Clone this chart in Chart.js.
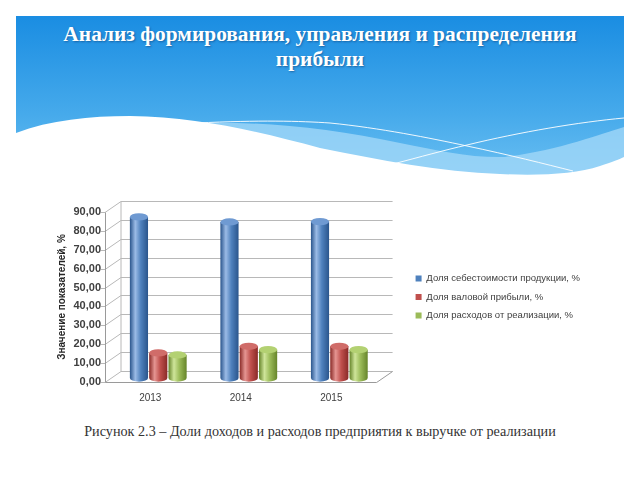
<!DOCTYPE html>
<html><head><meta charset="utf-8">
<script src="https://cdn.jsdelivr.net/npm/chart.js@4/dist/chart.umd.min.js"></script>
<style>
html,body{margin:0;padding:0;background:#fff;width:640px;height:480px;overflow:hidden;}
#hdr{position:absolute;left:0;top:0;}
#title{position:absolute;left:15px;top:22px;width:610px;text-align:center;color:#fff;font-family:"Liberation Serif","Times New Roman",serif;font-weight:bold;font-size:21.4px;line-height:25px;text-shadow:1px 1px 2px rgba(0,40,90,0.45);}
#wrap{position:absolute;left:0;top:185px;width:640px;height:235px;}
#caption{position:absolute;left:0;top:423px;width:640px;text-align:center;font-family:"Liberation Serif","Times New Roman",serif;font-size:14.2px;color:#333;}
</style></head>
<body>
<svg id="hdr" width="640" height="200" xmlns="http://www.w3.org/2000/svg">
<defs>
<linearGradient id="bg" x1="0" y1="0" x2="0" y2="1">
<stop offset="0" stop-color="#1a8de2"/><stop offset="0.6" stop-color="#46aaeb"/><stop offset="1" stop-color="#6cc0f2"/>
</linearGradient>
</defs>
<rect x="16" y="16" width="608" height="164" fill="url(#bg)"/>
<path d="M197 123 C260 121 330 128 400 143 C440 151 470 158 505 157 C560 150 600 134 624 127 L624 200 L197 200 Z" fill="#a6d9f8" opacity="0.75"/>
<path d="M16 133 C50 120 90 116 130 116 C200 117 260 132 320 148 C380 160 440 172 500 174 C540 176 575 174 600 166 C612 162 620 159 624 157 L624 200 L16 200 Z" fill="#fff"/>
<path d="M197 123 C260 120 300 121 330 123 C380 128 430 138 467 146 C510 155 545 164 573 171" stroke="#fff" stroke-width="1" fill="none" opacity="0.9"/>
<path d="M393 164 C420 157 445 150 467 145 C520 132 580 122 624 118" stroke="#fff" stroke-width="1" fill="none" opacity="0.9"/>
</svg>
<div id="title">Анализ формирования, управления и распределения<br>прибыли</div>
<div id="wrap"><canvas id="c" width="640" height="235"></canvas></div>
<div id="caption">Рисунок 2.3 – Доли доходов и расходов предприятия к выручке от реализации</div>
<script>
const years = ["2013", "2014", "2015"];
const costShare = [85.3, 82.6, 82.8];
const grossProfitShare = [13.3, 16.8, 16.8];
const salesExpenseShare = [12.2, 15.0, 15.0];
const seriesNames = ["Доля себестоимости продукции, %", "Доля валовой прибыли, %", "Доля расходов от реализации, %"];
const yTitle = "Значение показателей, %";

const DX = 16, DY = 11;
const shades = [
  {base:"#4f81bd", dark:"#2a558c", light:"#9bbbe6", top:"#6f9ad2"},
  {base:"#c0504d", dark:"#8a2a27", light:"#e59592", top:"#d06c69"},
  {base:"#9bbb59", dark:"#66852a", light:"#cfe59a", top:"#b3d172"}
];

const wallPlugin = {
  id: "wall3d",
  beforeDatasetsDraw(chart) {
    const {ctx, chartArea: {left, right, top, bottom}, scales: {y}} = chart;
    ctx.save();
    ctx.lineWidth = 1;
    ctx.strokeStyle = "#b8b8b8";
    y.ticks.forEach(t => {
      const yy = Math.round(y.getPixelForValue(t.value)) + 0.5;
      ctx.beginPath();
      ctx.moveTo(left - 4, yy);
      ctx.lineTo(left, yy);
      ctx.lineTo(left + DX, yy - DY);
      ctx.lineTo(right + DX, yy - DY);
      ctx.stroke();
    });
    const b = Math.round(bottom) + 0.5;
    ctx.beginPath();
    ctx.moveTo(left + DX, b - DY);
    ctx.lineTo(left + DX, Math.round(top) + 0.5 - DY);
    ctx.stroke();
    ctx.strokeStyle = "#9a9a9a";
    ctx.beginPath();
    ctx.moveTo(Math.round(left) + 0.5, Math.round(top) + 0.5);
    ctx.lineTo(Math.round(left) + 0.5, b);
    ctx.lineTo(right, b);
    ctx.lineTo(right + DX, b - DY);
    ctx.stroke();
    ctx.restore();
  },
  beforeDatasetDraw() { return false; },
  afterDatasetsDraw(chart) {
    const ctx = chart.ctx;
    ctx.save();
    const ox = DX * 0.5, oy = -4;
    chart.data.datasets.forEach((ds, di) => {
      const meta = chart.getDatasetMeta(di);
      const s = shades[di];
      meta.data.forEach(el => {
        const p = el.getProps(["x", "y", "base", "width"], true);
        const w = p.width * 0.94;
        const cx = p.x + ox;
        const l = cx - w / 2, r = cx + w / 2;
        const ty = p.y + oy, by = p.base + oy;
        const rx = w / 2, ry = w * 0.2;
        const g = ctx.createLinearGradient(l, 0, r, 0);
        g.addColorStop(0, s.dark);
        g.addColorStop(0.3, s.light);
        g.addColorStop(0.6, s.base);
        g.addColorStop(1, s.dark);
        ctx.fillStyle = g;
        ctx.beginPath();
        ctx.moveTo(l, ty);
        ctx.lineTo(l, by);
        ctx.ellipse(cx, by, rx, ry, 0, Math.PI, 0, true);
        ctx.lineTo(r, ty);
        ctx.closePath();
        ctx.fill();
        ctx.fillStyle = s.top;
        ctx.beginPath();
        ctx.ellipse(cx, ty, rx, ry, 0, 0, Math.PI * 2);
        ctx.fill();
      });
    });
    ctx.restore();
  }
};

const fmt = v => Number(v).toFixed(2).replace(".", ",");

new Chart(document.getElementById("c"), {
  type: "bar",
  data: {
    labels: years,
    datasets: [
      {label: seriesNames[0], data: costShare, backgroundColor: shades[0].base},
      {label: seriesNames[1], data: grossProfitShare, backgroundColor: shades[1].base},
      {label: seriesNames[2], data: salesExpenseShare, backgroundColor: shades[2].base}
    ]
  },
  plugins: [wallPlugin],
  options: {
    responsive: false,
    animation: false,
    devicePixelRatio: 1,
    layout: {padding: {left: 52, top: 27, bottom: 10, right: 50}},
    datasets: {bar: {categoryPercentage: 0.64, barPercentage: 1.0}},
    plugins: {
      tooltip: {enabled: false},
      legend: {
        position: "right",
        fullSize: false,
        maxWidth: 260,
        labels: {
          boxWidth: 6, boxHeight: 6, padding: 9,
          color: "#404040",
          font: {family: "'Liberation Sans', Arial, sans-serif", size: 9.5}
        }
      }
    },
    scales: {
      x: {
        grid: {display: false, tickLength: 0},
        border: {display: false},
        ticks: {color: "#404040", padding: 10, font: {family: "'Liberation Sans', Arial, sans-serif", size: 10}},
        afterFit: s => { s.height = 28; }
      },
      y: {
        min: 0, max: 90,
        grid: {display: false, tickLength: 0},
        border: {display: false},
        ticks: {stepSize: 10, color: "#404040", padding: 4, callback: v => fmt(v),
          font: {family: "'Liberation Sans', Arial, sans-serif", size: 11, weight: "bold"}},
        title: {display: true, text: yTitle, color: "#262626", padding: {top: 4, bottom: 0},
          font: {family: "'Liberation Sans Narrow', 'Liberation Sans', Arial, sans-serif", size: 10, weight: "bold"}},
        afterFit: s => { s.width = 53; }
      },
      y2: {
        position: "right",
        display: true,
        grid: {display: false},
        border: {display: false},
        ticks: {display: false},
        afterFit: s => { s.width = 30; }
      }
    }
  }
});
</script>
</body></html>
